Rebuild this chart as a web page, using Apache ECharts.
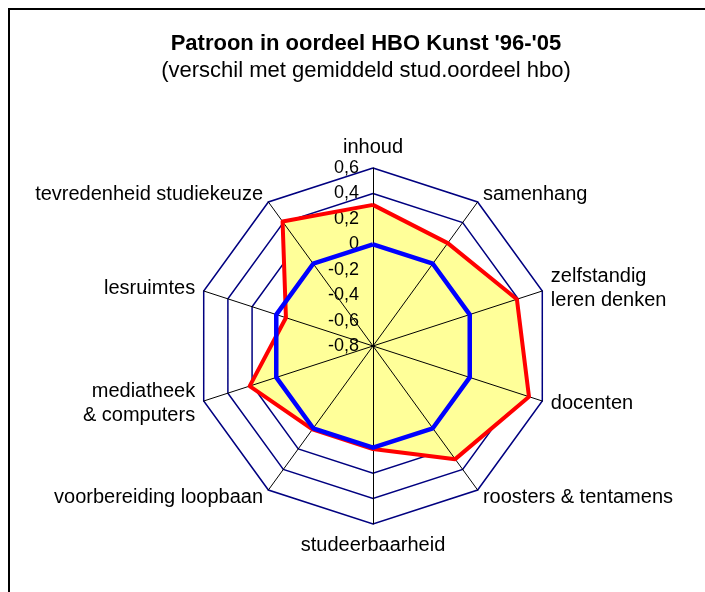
<!DOCTYPE html>
<html>
<head>
<meta charset="utf-8">
<script src="https://cdn.jsdelivr.net/npm/echarts@6/dist/echarts.min.js"></script>
<style>
  html, body { margin: 0; padding: 0; background: #fff; }
  #chart { width: 705px; height: 592px; }
</style>
</head>
<body>
<div id="chart"></div>
<script>
  // categories clockwise from the top
  var categories = ['inhoud', 'samenhang', 'zelfstandig\nleren denken', 'docenten',
    'roosters & tentamens', 'studeerbaarheid', 'voorbereiding loopbaan',
    'mediatheek\n& computers', 'lesruimtes', 'tevredenheid studiekeuze'];
  var kunst = [0.31, 0.2, 0.39, 0.49, 0.3, 0.01, 0.01, 0.22, -0.08, 0.41];
  var hbo = [0, 0, 0, 0, 0, 0, 0, 0, 0, 0];
  var axisMin = -0.8, axisMax = 0.6, axisSteps = 7;

  // echarts legt de assen tegen de klok in, dus volgorde omdraaien
  function ccw(arr) { return [arr[0]].concat(arr.slice(1).reverse()); }

  var chart = echarts.init(document.getElementById('chart'));
  var fmt = function (v) { return String(Math.round(v * 10) / 10).replace('.', ','); };
  var font = 'Liberation Sans, Arial, sans-serif';

  var names = ccw(categories);
  var radarBase = {
    center: [373, 346],
    radius: 178,
    startAngle: 90,
    shape: 'polygon',
    splitNumber: axisSteps
  };

  chart.setOption({
    animation: false,
    title: {
      text: "Patroon in oordeel HBO Kunst '96-'05",
      subtext: '(verschil met gemiddeld stud.oordeel hbo)',
      left: 361, top: 28, textAlign: 'center', itemGap: 5,
      textStyle: { fontFamily: font, fontSize: 22, fontWeight: 'bold', color: '#000' },
      subtextStyle: { fontFamily: font, fontSize: 22, color: '#000' }
    },
    graphic: [{
      type: 'rect', shape: { x: 9, y: 9, width: 720, height: 620 },
      style: { fill: 'none', stroke: '#000', lineWidth: 2 }, silent: true
    }],
    radar: [
      Object.assign({}, radarBase, {
        indicator: names.map(function (n) { return { name: n, min: axisMin, max: axisMax }; }),
        axisName: { color: '#000', fontFamily: font, fontSize: 20, lineHeight: 24 },
        nameGap: 9,
        splitLine: { lineStyle: { color: '#000080', width: 1.5 } },
        splitArea: { show: false },
        axisLine: { show: false },
        axisLabel: { show: false },
        z: 0
      }),
      Object.assign({}, radarBase, {
        indicator: names.map(function (n, i) {
          return {
            name: '', min: axisMin, max: axisMax,
            axisLabel: { show: i === 0 }
          };
        }),
        splitLine: { show: false },
        splitArea: { show: false },
        axisLine: { lineStyle: { color: '#000', width: 1 } },
        axisLabel: { show: false, color: '#000', fontFamily: font, fontSize: 18, margin: 14, formatter: fmt },
        z: 5
      })
    ],
    series: [
      {
        // gele vulling
        type: 'radar', radarIndex: 0, z: 2, symbol: 'none',
        lineStyle: { width: 0 },
        areaStyle: { color: '#ffff99', opacity: 1 },
        data: [{ value: ccw(kunst), name: 'HBO Kunst' }]
      },
      {
        type: 'radar', radarIndex: 1, z: 6, symbol: 'none',
        lineStyle: { color: '#ff0000', width: 4 },
        data: [{ value: ccw(kunst), name: 'HBO Kunst' }]
      },
      {
        type: 'radar', radarIndex: 1, z: 7, symbol: 'none',
        lineStyle: { color: '#0000ff', width: 4.5 },
        data: [{ value: ccw(hbo), name: 'HBO gemiddeld' }]
      }
    ]
  });
</script>
</body>
</html>
